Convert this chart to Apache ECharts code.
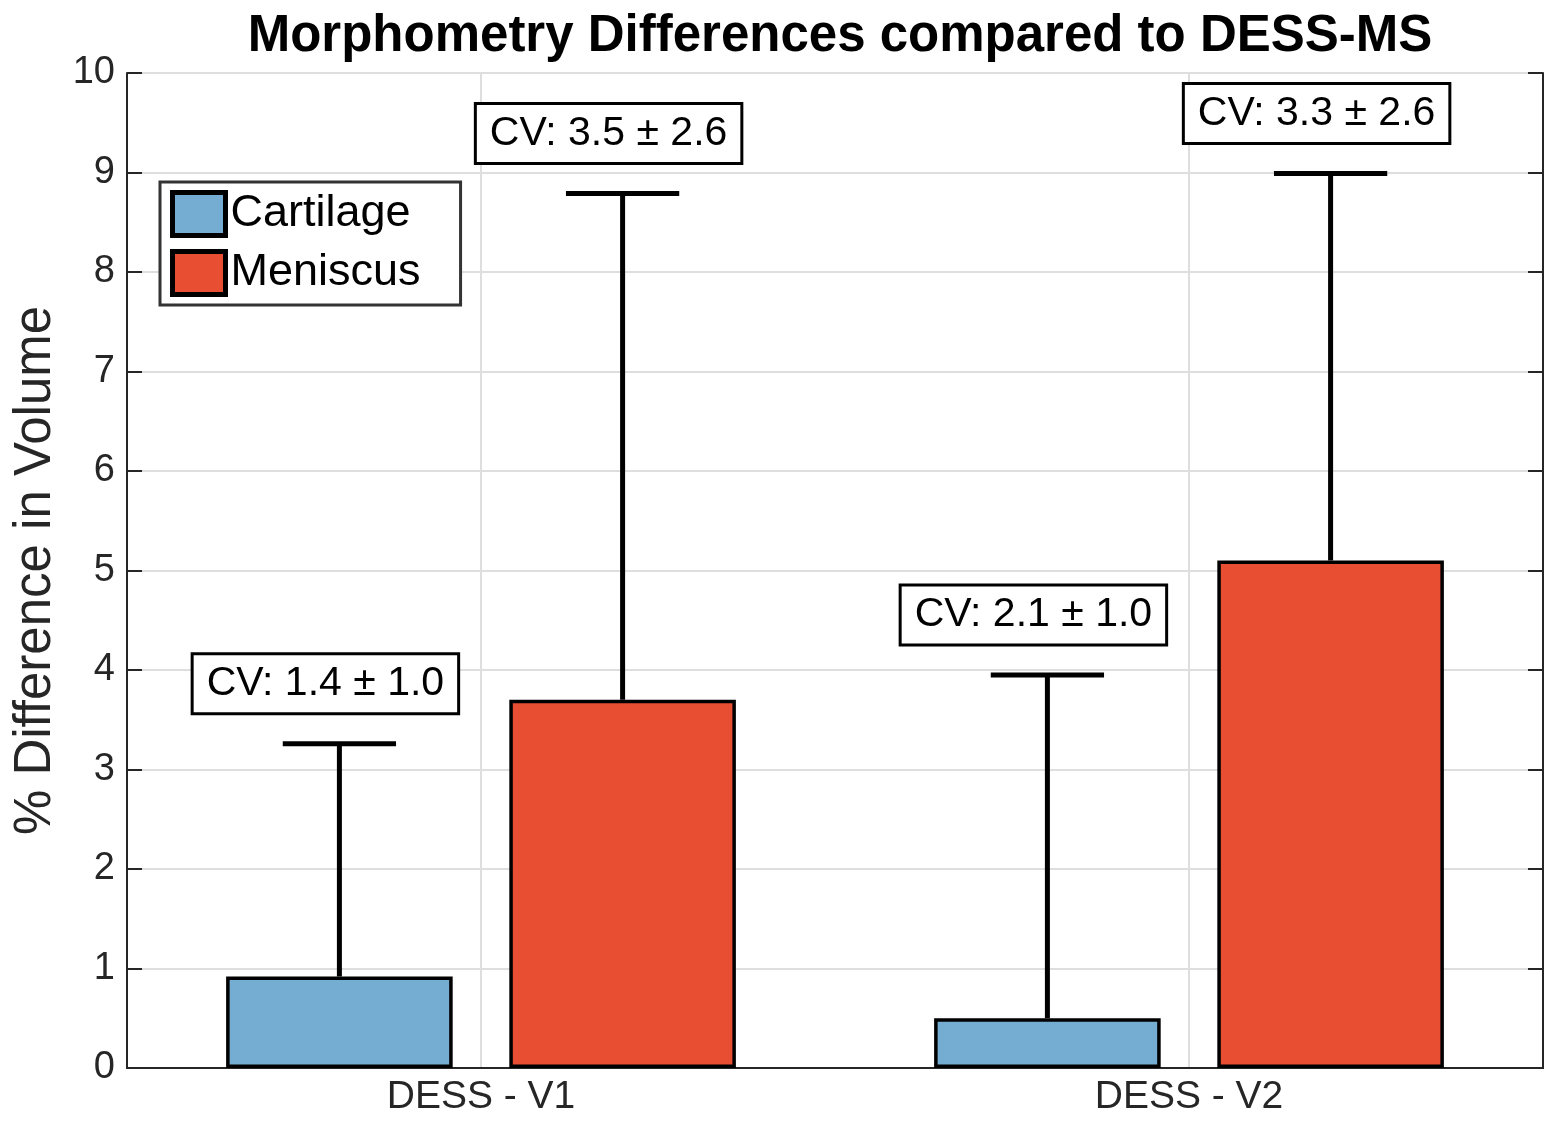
<!DOCTYPE html>
<html>
<head>
<meta charset="utf-8">
<script src="https://cdn.jsdelivr.net/npm/echarts@6/dist/echarts.min.js"></script>
<style>html,body{margin:0;padding:0;background:#fff}#c{width:1552px;height:1125px}</style>
</head>
<body>
<div id="c"></div>
<script>
const categories = ['DESS - V1', 'DESS - V2'];
const seriesNames = ['Cartilage', 'Meniscus'];
const cartilageMean = [0.92, 0.50];
const meniscusMean = [3.70, 5.10];
const cartilageErrTop = [3.26, 3.95];
const meniscusErrTop = [8.79, 8.99];
const cartilageCV = ['CV: 1.4 \u00b1 1.0', 'CV: 2.1 \u00b1 1.0'];
const meniscusCV = ['CV: 3.5 \u00b1 2.6', 'CV: 3.3 \u00b1 2.6'];
const yTicks = [0,1,2,3,4,5,6,7,8,9,10];

const FONT = '"Liberation Sans", Arial, Helvetica, sans-serif';
const AX = '#262626';
const BAR_W = 0.32, BAR_GAP = 0.25;
const halfStep = (BAR_W + BAR_W * BAR_GAP) / 2;

function errSeries(name, means, tops, labels, offset, z) {
  return {
    type: 'custom',
    name: name + ' err',
    xAxisIndex: 0, yAxisIndex: 0,
    z: z,
    silent: true,
    data: categories.map((c, i) => [i, means[i], tops[i]]),
    renderItem: function (params, api) {
      const band = api.size([1, 0])[0];
      const b = api.coord([api.value(0), api.value(1)]);
      const t = api.coord([api.value(0), api.value(2)]);
      const x = b[0] + offset * band;
      const capHalf = band * 0.08;
      const lbl = labels[params.dataIndex];
      return {
        type: 'group',
        children: [
          { type: 'line', shape: { x1: x, y1: b[1], x2: x, y2: t[1] }, style: { stroke: '#000', lineWidth: 5 } },
          { type: 'line', shape: { x1: x - capHalf, y1: t[1], x2: x + capHalf, y2: t[1] }, style: { stroke: '#000', lineWidth: 5 } },
          { type: 'text', x: x - 14, y: t[1] - 60,
            style: { text: lbl, align: 'center', verticalAlign: 'middle', fill: '#000',
              font: '41px ' + FONT, backgroundColor: '#fff', borderColor: '#000', borderWidth: 3,
              padding: [8, 13, 8, 13] } }
        ]
      };
    }
  };
}

const chart = echarts.init(document.getElementById('c'));
chart.setOption({
  animation: false,
  backgroundColor: '#fff',
  title: {
    text: 'Morphometry Differences compared to DESS-MS',
    left: 835, top: 6, textAlign: 'center',
    textStyle: { fontFamily: FONT, fontSize: 51, fontWeight: 'bold', color: '#000' }
  },
  legend: {
    orient: 'vertical', left: 160, top: 182,
    data: seriesNames,
    icon: 'rect', itemWidth: 53, itemHeight: 43, itemGap: 11,
    padding: [8, 40, 8, 10],
    borderColor: '#333', borderWidth: 3, backgroundColor: '#fff',
    itemStyle: { borderColor: '#000', borderWidth: 5 },
    textStyle: { fontFamily: FONT, fontSize: 45, color: '#000' }
  },
  grid: { left: 127, right: 9, top: 73, bottom: 57 },
  xAxis: [
    { type: 'category', data: categories, position: 'bottom',
      axisLine: { lineStyle: { color: AX, width: 2 } },
      axisTick: { inside: true, alignWithLabel: true, length: 15, lineStyle: { color: AX, width: 2 } },
      axisLabel: { fontFamily: FONT, fontSize: 39, color: AX, margin: 10 },
      splitLine: { show: true, alignWithLabel: true, lineStyle: { color: '#dedede', width: 2 } } },
    { type: 'category', data: categories, position: 'top',
      axisLine: { lineStyle: { color: AX, width: 2 } },
      axisTick: { inside: true, alignWithLabel: true, length: 15, lineStyle: { color: AX, width: 2 } },
      axisLabel: { show: false }, splitLine: { show: false } }
  ],
  yAxis: [
    { type: 'value', min: 0, max: 10, interval: 1, position: 'left',
      name: '% Difference in Volume', nameLocation: 'middle', nameGap: 64,
      nameTextStyle: { fontFamily: FONT, fontSize: 51, color: AX },
      axisLine: { show: true, lineStyle: { color: AX, width: 2 } },
      axisTick: { show: true, inside: true, length: 15, lineStyle: { color: AX, width: 2 } },
      axisLabel: { fontFamily: FONT, fontSize: 38, color: AX, margin: 12,
        formatter: v => yTicks.indexOf(v) >= 0 ? String(v) : '' },
      splitLine: { show: true, lineStyle: { color: '#dedede', width: 2 } } },
    { type: 'value', min: 0, max: 10, interval: 1, position: 'right',
      axisLine: { show: true, lineStyle: { color: AX, width: 2 } },
      axisTick: { show: true, inside: true, length: 15, lineStyle: { color: AX, width: 2 } },
      axisLabel: { show: false }, splitLine: { show: false } }
  ],
  series: [
    { type: 'bar', name: 'Cartilage', data: cartilageMean, barWidth: (BAR_W * 100) + '%', barGap: (BAR_GAP * 100) + '%',
      itemStyle: { color: '#74acd2', borderColor: '#000', borderWidth: 3.5 }, z: 3 },
    { type: 'bar', name: 'Meniscus', data: meniscusMean, barWidth: (BAR_W * 100) + '%', barGap: (BAR_GAP * 100) + '%',
      itemStyle: { color: '#e84f32', borderColor: '#000', borderWidth: 3.5 }, z: 3 },
    errSeries('Cartilage', cartilageMean, cartilageErrTop, cartilageCV, -halfStep, 5),
    errSeries('Meniscus', meniscusMean, meniscusErrTop, meniscusCV, halfStep, 5)
  ]
});
</script>
</body>
</html>
